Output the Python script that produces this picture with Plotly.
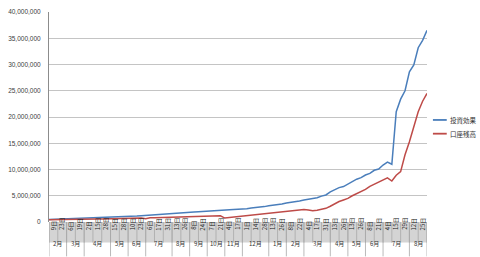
import plotly.graph_objects as go

# ---- data ----
months = ["2月", "3月", "4月", "5月", "6月", "7月", "8月", "9月", "10月", "11月",
          "12月", "1月", "2月", "3月", "4月", "5月", "6月", "7月", "8月"]
days = [["9日", "23日"], ["6日", "19日"], ["2日", "15日", "28日"], ["15日", "28日"],
        ["10日", "23日"], ["6日", "17日", "31日"], ["13日", "26日"], ["8日", "24日"],
        ["7日", "21日"], ["4日", "17日"], ["1日", "14日", "28日"], ["13日", "26日"],
        ["8日", "22日"], ["4日", "17日", "31日"], ["13日", "26日"], ["13日", "26日"],
        ["8日", "21日"], ["4日", "15日", "29日"], ["12日", "25日"]]

series_names = ["投資効果", "口座残高"]
# values in millions of yen, two samples per labelled day cell
invest_m = [0.50, 0.53, 0.51, 0.55, 0.57, 0.56, 0.61, 0.62, 0.66, 0.67,
            0.71, 0.74, 0.77, 0.83, 0.85, 0.91, 0.94, 1.01, 1.04, 1.11,
            1.14, 1.21, 1.27, 1.36, 1.38, 1.47, 1.54, 1.66, 1.68, 1.73,
            1.77, 1.82, 1.84, 1.90, 1.94, 2.01, 2.04, 2.16, 2.19, 2.29,
            2.34, 2.39, 2.38, 2.43, 2.46, 2.54, 2.67, 2.73, 2.87, 2.93,
            3.08, 3.18, 3.38, 3.42, 3.63, 3.72, 3.93, 4.02, 4.18, 4.32,
            4.52, 4.62, 4.93, 5.15, 5.75, 6.15, 6.55, 6.75, 7.25, 7.65,
            8.15, 8.45, 8.95, 9.25, 9.85, 10.10, 10.85, 11.40, 11.00, 21.00,
            23.40, 25.00, 28.60, 29.90, 33.20, 34.60, 36.50]
balance_m = [0.45, 0.47, 0.48, 0.50, 0.50, 0.50, 0.52, 0.53, 0.53, 0.55,
             0.55, 0.56, 0.55, 0.57, 0.60, 0.62, 0.63, 0.65, 0.68, 0.70,
             0.72, 0.75, 0.62, 0.80, 0.82, 0.85, 0.88, 0.92, 0.95, 0.97,
             1.00, 0.95, 1.02, 1.00, 1.05, 1.08, 1.10, 1.15, 1.20, 1.18,
             0.75, 0.85, 0.95, 1.00, 1.05, 1.15, 1.25, 1.35, 1.45, 1.55,
             1.65, 1.80, 1.90, 2.00, 2.10, 2.20, 2.30, 2.35, 2.40, 2.30,
             2.15, 2.25, 2.40, 2.60, 3.00, 3.50, 3.90, 4.20, 4.50, 5.00,
             5.40, 5.70, 6.20, 6.80, 7.20, 7.60, 8.00, 8.40, 7.80, 8.90,
             9.60, 12.80, 15.30, 18.00, 21.00, 23.00, 24.50]

colors = ["#4A7EBB", "#BE4B48"]

# ---- layout geometry ----
W, H = 480, 257
L, R, T, B = 44, 53, 8, 35
PW, PH = W - L - R, H - T - B
SPC = 2  # samples per day cell


def py(px):  # pixel y -> paper y
    return (H - B - px) / PH


def pxp(px):  # pixel x -> paper x
    return (px - L) / PW


invest = [v * 1e6 for v in invest_m]
balance = [v * 1e6 for v in balance_m]
n_cells = sum(len(d) for d in days)

fig = go.Figure()
for name, vals, c in zip(series_names, [invest, balance], colors):
    fig.add_trace(go.Scatter(x=list(range(len(vals))), y=vals, mode="lines", name=name,
                             line=dict(color=c, width=1.5), showlegend=False))

shapes = []
annotations = []
# day band
shapes.append(dict(type="rect", xref="x", yref="paper", x0=0, x1=n_cells * SPC,
                   y0=py(243), y1=py(222), fillcolor="#D4D4D4", line=dict(width=0), layer="below"))
cell = 0
for mi, (m, dl) in enumerate(zip(months, days)):
    start = cell
    for d in dl:
        annotations.append(dict(x=cell * SPC + SPC / 2, y=py(232.5), xref="x", yref="paper",
                                text=d, textangle=-90, showarrow=False,
                                font=dict(size=6, color="#222222", family="Noto Sans CJK JP")))
        cell += 1
    annotations.append(dict(x=(start + cell) * SPC / 2, y=py(250.5), xref="x", yref="paper",
                            text=m, showarrow=False,
                            font=dict(size=6, color="#333333", family="Noto Sans CJK JP")))
for i in range(n_cells + 1):
    shapes.append(dict(type="line", xref="x", yref="paper", x0=i * SPC, x1=i * SPC,
                       y0=py(243), y1=py(222), line=dict(color="#A8A8A8", width=0.8)))
cell = 0
bounds = [0]
for dl in days:
    cell += len(dl)
    bounds.append(cell)
for b in bounds:
    shapes.append(dict(type="line", xref="x", yref="paper", x0=b * SPC, x1=b * SPC,
                       y0=py(257), y1=py(222), line=dict(color="#A8A8A8", width=0.8)))

# legend (drawn)
for i, (name, c) in enumerate(zip(series_names, colors)):
    yy = 118 + 14 * i
    shapes.append(dict(type="line", xref="paper", yref="paper", x0=pxp(433), x1=pxp(447),
                       y0=py(yy), y1=py(yy), line=dict(color=c, width=1.8)))
    annotations.append(dict(x=pxp(448), y=py(yy), xref="paper", yref="paper", text=name,
                            xanchor="left", yanchor="middle", showarrow=False,
                            font=dict(size=6.5, color="#333333", family="Noto Sans CJK JP")))

fig.update_layout(
    width=W, height=H, margin=dict(l=L, r=R, t=T, b=B),
    paper_bgcolor="white", plot_bgcolor="white",
    shapes=shapes, annotations=annotations, showlegend=False,
    xaxis=dict(range=[0, n_cells * SPC], showgrid=False, showticklabels=False,
               zeroline=False, showline=False, fixedrange=True),
    yaxis=dict(range=[0, 40e6], dtick=5e6, tickformat=",", showgrid=True,
               gridcolor="#C4C4C4", gridwidth=1, zeroline=False, showline=True,
               linecolor="#8C8C8C", linewidth=1, ticks="", ticklabelstandoff=6,
               tickfont=dict(size=6.5, color="#404040", family="Liberation Sans")),
)
fig.write_html("out.html")
